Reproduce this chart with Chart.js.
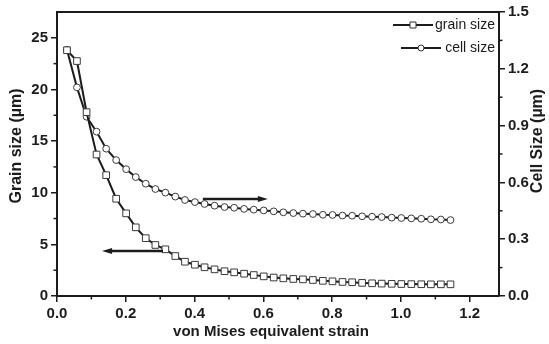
<!DOCTYPE html>
<html>
<head>
<meta charset="utf-8">
<script src="https://cdn.jsdelivr.net/npm/chart.js@4/dist/chart.umd.min.js"></script>
<style>
    body { margin: 0; background: #fff; }
    #wrap { width: 549px; height: 344px; }
</style>
</head>
<body>
<div id="wrap"><canvas id="chart" width="549" height="344"></canvas></div>
<script>
// von Mises equivalent strain for every measured point
const strain = [0.029, 0.058, 0.086, 0.115, 0.143, 0.172, 0.201, 0.229, 0.258, 0.286,
    0.315, 0.344, 0.372, 0.401, 0.429, 0.458, 0.487, 0.515, 0.544, 0.572,
    0.601, 0.630, 0.658, 0.687, 0.715, 0.744, 0.773, 0.801, 0.830, 0.858,
    0.887, 0.916, 0.944, 0.973, 1.001, 1.030, 1.059, 1.087, 1.116, 1.144];
// grain size (µm), left axis
const grainSize = [23.8, 22.75, 17.8, 13.7, 11.7, 9.42, 8.0, 6.65, 5.6, 4.94,
    4.52, 3.87, 3.32, 3.03, 2.78, 2.58, 2.4, 2.29, 2.16, 2.03,
    1.9, 1.79, 1.71, 1.65, 1.61, 1.55, 1.47, 1.42, 1.36, 1.33,
    1.27, 1.23, 1.2, 1.18, 1.16, 1.15, 1.14, 1.13, 1.13, 1.13];
// cell size (µm), right axis
const cellSize = [1.30, 1.102, 0.947, 0.868, 0.778, 0.718, 0.670, 0.628, 0.593, 0.565,
    0.546, 0.525, 0.507, 0.496, 0.486, 0.477, 0.470, 0.466, 0.460, 0.456,
    0.452, 0.447, 0.442, 0.438, 0.435, 0.433, 0.429, 0.428, 0.425, 0.424,
    0.421, 0.419, 0.417, 0.414, 0.412, 0.410, 0.408, 0.405, 0.404, 0.401];

const strainTicks = [0, 0.2, 0.4, 0.6, 0.8, 1.0, 1.2];
const strainMinor = [0.1, 0.3, 0.5, 0.7, 0.9, 1.1];
const grainTicks = [0, 5, 10, 15, 20, 25];
const grainMinor = [2.5, 7.5, 12.5, 17.5, 22.5];
const cellTicks = [0, 0.3, 0.6, 0.9, 1.2, 1.5];
const cellMinor = [0.15, 0.45, 0.75, 1.05, 1.35];

// arrows pointing to each curve's axis: [x from, x to, value, axis]
const arrows = [
    [0.308, 0.131, 4.36, 'y'],
    [0.424, 0.613, 0.512, 'y1']
];

const INK = '#1c1c1c';
const tickFont = { family: 'Arial, "Liberation Sans", sans-serif', size: 15, weight: 'bold' };

function fixedTicks(list) {
    return scale => { scale.ticks = list.map(v => ({ value: v })); };
}

const axisGrid = { drawOnChartArea: false, tickLength: 6, color: INK, lineWidth: 1.5 };
const axisBorder = { color: INK, width: 2 };

// Minor ticks, top frame line, titles, arrows and legend
const decorations = {
    id: 'decorations',
    afterDraw(chart) {
        const { ctx, chartArea: a, scales } = chart;
        ctx.save();
        ctx.strokeStyle = INK;
        ctx.lineWidth = 1.5;
        strainMinor.forEach(v => {
            const x = scales.x.getPixelForValue(v);
            ctx.beginPath(); ctx.moveTo(x, a.bottom); ctx.lineTo(x, a.bottom + 3.5); ctx.stroke();
        });
        grainMinor.forEach(v => {
            const y = scales.y.getPixelForValue(v);
            ctx.beginPath(); ctx.moveTo(a.left, y); ctx.lineTo(a.left - 3.5, y); ctx.stroke();
        });
        cellMinor.forEach(v => {
            const y = scales.y1.getPixelForValue(v);
            ctx.beginPath(); ctx.moveTo(a.right, y); ctx.lineTo(a.right + 3.5, y); ctx.stroke();
        });
        // top frame
        ctx.lineWidth = 2;
        ctx.beginPath(); ctx.moveTo(a.left - 1, a.top); ctx.lineTo(a.right + 1, a.top); ctx.stroke();

        // axis titles
        ctx.fillStyle = INK;
        ctx.textAlign = 'center';
        ctx.textBaseline = 'middle';
        ctx.font = 'bold 15px Arial, "Liberation Sans", sans-serif';
        ctx.fillText('von Mises equivalent strain', 271, 332);
        ctx.font = 'bold 16px Arial, "Liberation Sans", sans-serif';
        ctx.save(); ctx.translate(17, 146); ctx.rotate(-Math.PI / 2);
        ctx.fillText('Grain size (µm)', 0, 0); ctx.restore();
        ctx.save(); ctx.translate(538, 141); ctx.rotate(-Math.PI / 2);
        ctx.fillText('Cell Size (µm)', 0, 0); ctx.restore();

        // arrows
        arrows.forEach(([x0, x1, v, axis]) => {
            const px0 = scales.x.getPixelForValue(x0);
            const px1 = scales.x.getPixelForValue(x1);
            const py = scales[axis].getPixelForValue(v);
            const dir = Math.sign(px1 - px0);
            ctx.lineWidth = 2.5;
            ctx.beginPath(); ctx.moveTo(px0, py); ctx.lineTo(px1 - dir * 6, py); ctx.stroke();
            ctx.beginPath();
            ctx.moveTo(px1, py);
            ctx.lineTo(px1 - dir * 10, py - 3);
            ctx.lineTo(px1 - dir * 10, py + 3);
            ctx.closePath(); ctx.fill();
        });

        // legend
        const items = [
            { label: 'grain size', y: 25, x0: 393, x1: 433, style: 'rect' },
            { label: 'cell size', y: 48, x0: 401, x1: 441, style: 'circle' }
        ];
        ctx.font = '14px Arial, "Liberation Sans", sans-serif';
        ctx.textAlign = 'right';
        items.forEach(it => {
            ctx.strokeStyle = INK;
            ctx.lineWidth = 2;
            ctx.beginPath(); ctx.moveTo(it.x0, it.y); ctx.lineTo(it.x1, it.y); ctx.stroke();
            const cx = (it.x0 + it.x1) / 2;
            ctx.fillStyle = '#fff';
            ctx.strokeStyle = '#333';
            ctx.lineWidth = 1;
            ctx.beginPath();
            if (it.style === 'rect') ctx.rect(cx - 3, it.y - 3, 6, 6);
            else ctx.arc(cx, it.y, 3, 0, Math.PI * 2);
            ctx.fill(); ctx.stroke();
            ctx.fillStyle = INK;
            ctx.fillText(it.label, 495, it.y);
        });
        ctx.restore();
    }
};

const ctx = document.getElementById('chart').getContext('2d');
new Chart(ctx, {
    type: 'line',
    data: {
        datasets: [{
            label: 'grain size',
            data: strain.map((s, i) => ({ x: s, y: grainSize[i] })),
            yAxisID: 'y',
            borderColor: INK,
            borderWidth: 2,
            pointStyle: 'rect',
            pointRadius: 4.7,
            pointBorderWidth: 1,
            pointBorderColor: '#3a3a3a',
            pointBackgroundColor: '#fff',
            tension: 0,
            fill: false
        }, {
            label: 'cell size',
            data: strain.map((s, i) => ({ x: s, y: cellSize[i] })),
            yAxisID: 'y1',
            borderColor: INK,
            borderWidth: 2,
            pointStyle: 'circle',
            pointRadius: 3.4,
            pointBorderWidth: 1,
            pointBorderColor: '#3a3a3a',
            pointBackgroundColor: '#fff',
            tension: 0,
            fill: false
        }]
    },
    options: {
        responsive: false,
        animation: false,
        devicePixelRatio: 1,
        layout: { padding: { top: 12, left: 0, right: 0, bottom: 0 } },
        plugins: { legend: { display: false }, tooltip: { enabled: false } },
        scales: {
            x: {
                type: 'linear', min: 0, max: 1.285,
                afterBuildTicks: fixedTicks(strainTicks),
                afterFit: s => { s.height = 48; },
                ticks: { callback: v => v.toFixed(1), font: tickFont, color: INK, padding: 3, maxRotation: 0, autoSkip: false },
                grid: axisGrid, border: axisBorder
            },
            y: {
                type: 'linear', position: 'left', min: 0, max: 27.5,
                afterBuildTicks: fixedTicks(grainTicks),
                afterFit: s => { s.width = 57; },
                ticks: { callback: v => String(v), font: tickFont, color: INK, padding: 3 },
                grid: axisGrid, border: axisBorder
            },
            y1: {
                type: 'linear', position: 'right', min: 0, max: 1.5,
                afterBuildTicks: fixedTicks(cellTicks),
                afterFit: s => { s.width = 50; },
                ticks: { callback: v => v.toFixed(1), font: tickFont, color: INK, padding: 3 },
                grid: axisGrid, border: axisBorder
            }
        }
    },
    plugins: [decorations]
});
</script>
</body>
</html>
